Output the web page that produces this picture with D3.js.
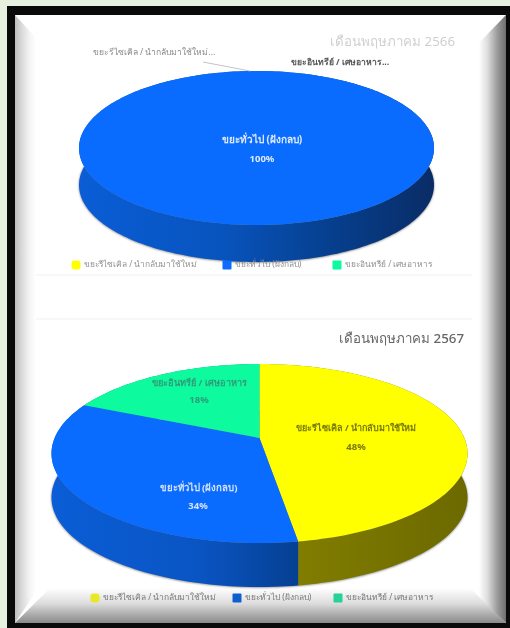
<!DOCTYPE html>
<html>
<head>
<meta charset="utf-8">
<script src="https://d3js.org/d3.v7.min.js"></script>
<style>
html, body { margin: 0; padding: 0; background: #e6f1e0; }
svg { display: block; }
text { font-family: "Noto Sans", "Liberation Sans", "DejaVu Sans", sans-serif; }
</style>
</head>
<body>
<svg id="chart" width="510" height="628"></svg>
<script>
// values, labels show them rounded
const categories = ['ขยะรีไซเคิล / นำกลับมาใช้ใหม่', 'ขยะทั่วไป (ฝังกลบ)', 'ขยะอินทรีย์ / เศษอาหาร'];
const colors = ['#ffff00', '#0a6cff', '#0dfa9e'];
const values2566 = [0, 100, 0];
const values2567 = [47.5, 34.1, 18.4];
const title2566 = 'เดือนพฤษภาคม 2566';
const title2567 = 'เดือนพฤษภาคม 2567';

const svg = d3.select('#chart');
const defs = svg.append('defs');

const soft = defs.append('filter').attr('id', 'soft')
    .attr('x', '-5%').attr('y', '-20%').attr('width', '110%').attr('height', '140%');
soft.append('feGaussianBlur').attr('stdDeviation', 0.45);
const softer = defs.append('filter').attr('id', 'softer')
    .attr('x', '-10%').attr('y', '-10%').attr('width', '120%').attr('height', '120%');
softer.append('feGaussianBlur').attr('stdDeviation', 1);

function gradient(id, x1, y1, x2, y2, stops, user) {
    const g = defs.append('linearGradient').attr('id', id)
        .attr('x1', x1).attr('y1', y1).attr('x2', x2).attr('y2', y2);
    if (user) g.attr('gradientUnits', 'userSpaceOnUse');
    stops.forEach(s => g.append('stop').attr('offset', s[0]).attr('stop-color', s[1]));
}

// picture frame: black edge, white mat, bevels
const frame = svg.append('g');
frame.append('rect').attr('x', 7).attr('y', 6).attr('width', 503).attr('height', 622).attr('fill', '#0a0a0a');
frame.append('rect').attr('x', 15).attr('y', 15).attr('width', 491).attr('height', 608).attr('fill', '#fff');

// faint card outlines behind the charts
frame.append('path').attr('d', 'M27,240V275H488V240').attr('fill', 'none').attr('stroke', '#f1f1f1');
frame.append('path').attr('d', 'M27,360V319H488V360').attr('fill', 'none').attr('stroke', '#f1f1f1');

gradient('bevelLeft', 0, 0, 1, 0, [[0, '#bdbdbd'], [0.3, '#d8d8d8'], [0.7, '#f4f4f4'], [1, '#ffffff']]);
gradient('bevelRight', 1, 0, 0, 0, [[0, '#6e6e6e'], [0.25, '#9a9a9a'], [0.55, '#dedede'], [0.8, '#ffffff'], [1, '#ffffff']]);
gradient('bevelBottom', 0, 1, 0, 0, [[0, '#8a8a8a'], [0.25, '#adadad'], [0.55, '#dcdcdc'], [1, '#ffffff']]);

const polygon = d3.line();
frame.append('path').attr('d', polygon([[15, 15], [36, 38], [36, 592], [15, 623]]) + 'Z').attr('fill', 'url(#bevelLeft)');
frame.append('path').attr('d', polygon([[506, 15], [472, 50], [472, 592], [506, 623]]) + 'Z').attr('fill', 'url(#bevelRight)');
frame.append('path').attr('d', polygon([[15, 623], [50, 588], [470, 588], [506, 623]]) + 'Z').attr('fill', 'url(#bevelBottom)');

// tilted disc as a perspective view: back/front rim and the point the slices meet at
function projection(p) {
    const c = (2 * p.apex - p.back - p.front) / (p.back - p.front);
    const a = p.back * (1 + c) - p.apex;
    const d = p.rx * Math.sqrt(1 - c * c);
    return t => {
        const w = 1 + c * Math.cos(t);
        return [p.cx + d * Math.sin(t) / w, (p.apex + a * Math.cos(t)) / w];
    };
}

function rim(project, start, end) {
    const n = Math.max(2, Math.ceil((end - start) * 40));
    return d3.range(n + 1).map(i => project(start + (end - start) * i / n));
}

const pie = d3.pie().sort(null).value(d => d);
const colorScale = d3.scaleOrdinal().domain(categories).range(colors);

gradient('side0', 52, 0, 467, 0, [[0, '#8a8600'], [0.55, '#837f00'], [1, '#6c6900']], true);
gradient('side1', 52, 0, 467, 0, [[0, '#0a5dd6'], [0.35, '#0a55c4'], [0.6, '#053f90'], [1, '#08306c']], true);
gradient('side2', 52, 0, 467, 0, [[0, '#0aa070'], [1, '#0aa070']], true);
gradient('topSide1', 79, 0, 434, 0, [[0, '#0a5dd6'], [0.4, '#0854be'], [0.7, '#06408f'], [1, '#0a2c66']], true);

function drawPie(values, p, sideFill) {
    const project = projection(p);
    const g = svg.append('g');
    const arcs = pie(values).filter(d => d.value > 0);
    const fullRim = rim(project, 0, 2 * Math.PI).map(q => [q[0], q[1] + p.depth + 0.5]);

    g.append('path').attr('d', polygon(fullRim) + 'Z')
        .attr('fill', '#444').attr('opacity', 0.7).attr('filter', 'url(#softer)');

    arcs.forEach(d => {
        const edge = rim(project, d.startAngle, d.endAngle);
        const lower = edge.map(q => [q[0], q[1] + p.depth]).reverse();
        g.append('path').attr('d', polygon(edge.concat(lower)) + 'Z')
            .attr('fill', sideFill(d.index));
    });
    arcs.forEach(d => {
        const edge = rim(project, d.startAngle, d.endAngle);
        const full = d.endAngle - d.startAngle >= 2 * Math.PI;
        g.append('path').attr('d', polygon(full ? edge : [[p.cx, p.apex]].concat(edge)) + 'Z')
            .attr('fill', colorScale(categories[d.index]));
    });
}

drawPie(values2566, { cx: 256.5, rx: 177.5, back: 71, apex: 135, front: 225, depth: 37 }, () => 'url(#topSide1)');
drawPie(values2567, { cx: 259.5, rx: 208, back: 364, apex: 438, front: 543, depth: 44 }, i => `url(#side${i})`);

function label(txt, x, y, size, fill, weight, anchor) {
    svg.append('text').attr('x', x).attr('y', y).attr('font-size', size)
        .attr('fill', fill).attr('font-weight', weight || 400)
        .attr('text-anchor', anchor || 'middle').attr('dominant-baseline', 'middle')
        .attr('filter', 'url(#soft)').text(txt);
}
const percent = v => Math.round(v) + '%';

// titles
label(title2566, 455, 42, 13.3, '#d0d0d0', 400, 'end');
label(title2567, 464, 339, 13.3, '#666', 500, 'end');

// 2566 labels, the two empty slices get a leader
svg.append('path').attr('d', 'M203,62L250,71').attr('stroke', '#c4c4c4').attr('fill', 'none');
label(categories[0] + '...', 154, 53, 8.6, '#8a8a8a');
label(categories[2] + '...', 340, 63, 8.6, '#555', 700);
label(categories[1], 262, 140, 10, '#dfeaff', 700);
label(percent(values2566[1]), 262, 159, 9.5, '#dfeaff', 700);

// 2567 labels
label(categories[0], 356, 429, 9, '#77770a', 700);
label(percent(values2567[0]), 356, 447, 9.5, '#77770a', 700);
label(categories[1], 198.5, 488, 9.6, '#d4e2ff', 700);
label(percent(values2567[1]), 198, 506, 9.5, '#d4e2ff', 700);
label(categories[2], 199.5, 383, 9.2, '#2f9c78', 700);
label(percent(values2567[2]), 199, 400, 9.5, '#2f9c78', 700);

// legends
function legend(y, xs, textFill, swatchFills) {
    categories.forEach((c, i) => {
        svg.append('rect').attr('x', xs[i] - 4.5).attr('y', y - 4.5).attr('width', 9).attr('height', 9)
            .attr('rx', i === 0 ? 3 : 1).attr('fill', swatchFills[i]).attr('filter', 'url(#soft)');
        label(c, xs[i] + 8, y, 8.4, textFill, 400, 'start');
    });
}
legend(265, [76, 227, 337], '#8f8f8f', colors);
legend(598, [95, 237, 338], '#777', ['#e8e826', '#0f5fd0', '#25d29a']);
</script>
</body>
</html>
